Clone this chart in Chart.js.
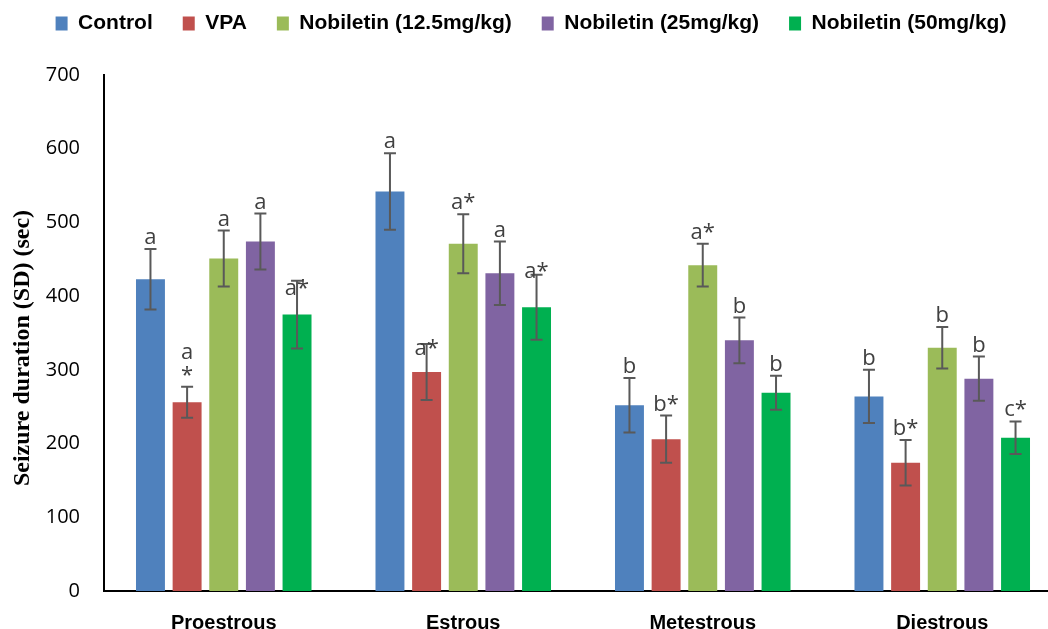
<!DOCTYPE html>
<html>
<head>
<meta charset="utf-8">
<script src="https://cdn.jsdelivr.net/npm/chart.js@4.4.1/dist/chart.umd.min.js"></script>
<style>
  html, body { margin: 0; padding: 0; background: #fff; overflow: hidden; }
  #wrap { width: 1062px; height: 629px; }
</style>
</head>
<body>
<div id="wrap"><canvas id="chart"></canvas></div>
<script>
// Data
const stages = ['Proestrous', 'Estrous', 'Metestrous', 'Diestrous'];
const groups = ['Control', 'VPA', 'Nobiletin (12.5mg/kg)', 'Nobiletin (25mg/kg)', 'Nobiletin (50mg/kg)'];

const controlMean = [423, 542, 252, 264];
const vpaMean     = [256, 297, 206, 174];
const nob125Mean  = [451, 471, 442, 330];
const nob25Mean   = [474, 431, 340, 288];
const nob50Mean   = [375, 385, 269, 208];

const controlSD = [41, 52, 37, 36];
const vpaSD     = [21, 38, 32, 31];
const nob125SD  = [38, 40, 29, 28];
const nob25SD   = [38, 43, 31, 30];
const nob50SD   = [46, 44, 23, 22];

const controlSig = ['a', 'a', 'b', 'b'];
const vpaSig     = ['a\n*', 'a*', 'b*', 'b*'];
const nob125Sig  = ['a', 'a*', 'a*', 'b'];
const nob25Sig   = ['a', 'a', 'b', 'b'];
const nob50Sig   = ['a*', 'a*', 'b', 'c*'];

const yTicks = [0, 100, 200, 300, 400, 500, 600, 700];

const colors = ['#4F81BD', '#C0504D', '#9BBB59', '#8064A2', '#00B050'];
const means = [controlMean, vpaMean, nob125Mean, nob25Mean, nob50Mean];
const sds = [controlSD, vpaSD, nob125SD, nob25SD, nob50SD];
const sigs = [controlSig, vpaSig, nob125Sig, nob25Sig, nob50Sig];

// a few letters in the original sit lower, over the cap
const labelNudge = { '4-0': 19, '1-1': 16, '4-1': 8 };

// extra room under the legend
const legendGap = {
  id: 'legendGap',
  beforeInit(chart) {
    const fit = chart.legend.fit;
    chart.legend.fit = function () {
      fit.call(this);
      this.height += 31;
    };
  }
};

const errorBars = {
  id: 'errorBars',
  afterDatasetsDraw(chart) {
    const ctx = chart.ctx;
    const y = chart.scales.y;
    chart.data.datasets.forEach((ds, di) => {
      const meta = chart.getDatasetMeta(di);
      meta.data.forEach((bar, i) => {
        const m = means[di][i], s = sds[di][i];
        const top = y.getPixelForValue(m + s);
        const bot = y.getPixelForValue(m - s);
        ctx.save();
        ctx.strokeStyle = '#595959';
        ctx.lineWidth = 2;
        ctx.beginPath();
        ctx.moveTo(bar.x, top); ctx.lineTo(bar.x, bot);
        ctx.moveTo(bar.x - 6, top); ctx.lineTo(bar.x + 6, top);
        ctx.moveTo(bar.x - 6, bot); ctx.lineTo(bar.x + 6, bot);
        ctx.stroke();

        ctx.fillStyle = '#404040';
        ctx.font = '22px "Open Sans", sans-serif';
        ctx.textAlign = 'center';
        ctx.textBaseline = 'alphabetic';
        const lines = sigs[di][i].split('\n');
        let base = top - 5 + (labelNudge[di + '-' + i] || 0);
        for (let k = lines.length - 1; k >= 0; k--) {
          ctx.fillText(lines[k], bar.x, base);
          base -= 23;
        }
        ctx.restore();
      });
    });
  }
};

new Chart(document.getElementById('chart'), {
  type: 'bar',
  data: {
    labels: stages,
    datasets: groups.map((g, i) => ({
      label: g,
      data: means[i],
      backgroundColor: colors[i],
      borderWidth: 0,
      barPercentage: 0.79,
      categoryPercentage: 0.765
    }))
  },
  options: {
    responsive: true,
    maintainAspectRatio: false,
    animation: false,
    layout: { padding: { top: -17, right: 0, bottom: -26, left: 0 } },
    plugins: {
      legend: {
        position: 'top',
        labels: {
          boxWidth: 12,
          boxHeight: 14,
          padding: 30,
          color: '#000',
          font: { family: '"Liberation Sans", Arial, sans-serif', size: 21, weight: 'bold' }
        }
      },
      tooltip: { enabled: false }
    },
    scales: {
      x: {
        grid: { display: false, drawTicks: false },
        border: { display: true, color: '#000', width: 2 },
        ticks: {
          color: '#000',
          padding: 20,
          font: { family: '"Liberation Sans", Arial, sans-serif', size: 20, weight: 'bold' }
        }
      },
      y: {
        min: 0,
        max: 700,
        afterFit(scale) { scale.width = 104; },
        grid: { display: false, drawTicks: false },
        border: { display: true, color: '#000', width: 2 },
        afterBuildTicks(scale) { scale.ticks = yTicks.map(v => ({ value: v })); },
        ticks: {
          color: '#000',
          padding: 24,
          font: { family: '"Open Sans", sans-serif', size: 20 }
        },
        title: {
          display: true,
          text: 'Seizure duration (SD) (sec)\u00a0\u00a0\u00a0\u00a0\u00a0',
          color: '#000',
          padding: { top: 8, bottom: 11 },
          font: { family: '"Liberation Serif", "Times New Roman", serif', size: 24, weight: 'bold' }
        }
      }
    }
  },
  plugins: [legendGap, errorBars]
});
</script>
</body>
</html>
